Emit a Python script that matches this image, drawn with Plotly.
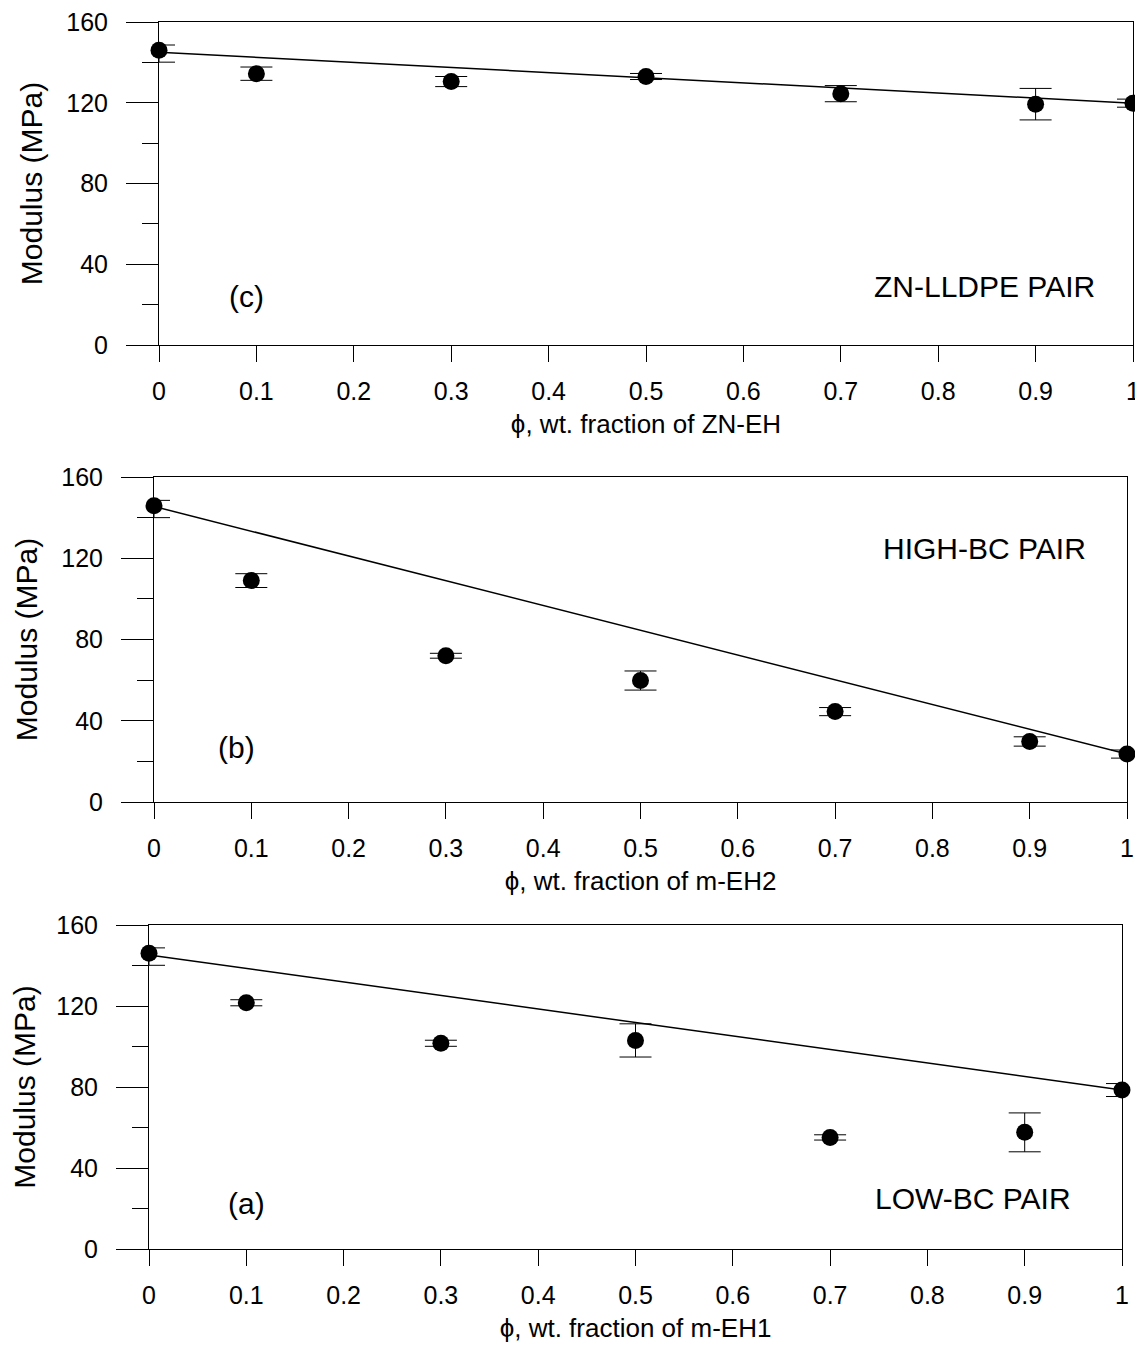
import plotly.graph_objects as go

# ---------------- data ----------------
phi = [0, 0.1, 0.3, 0.5, 0.7, 0.9, 1.0]

# (c) ZN-LLDPE pair
c_mod = [146.0, 134.4, 130.5, 133.0, 124.5, 119.3, 119.8]
c_err_plus = [2.6, 3.3, 2.5, 1.5, 4.0, 7.8, 2.0]
c_err_minus = [5.9, 3.3, 2.5, 1.5, 4.0, 7.8, 2.0]
c_line_x = [0, 1]
c_line_y = [145.0, 119.8]

# (b) HIGH-BC pair
b_mod = [145.8, 109.0, 72.0, 59.8, 44.5, 29.8, 23.6]
b_err_plus = [2.7, 3.4, 1.2, 4.7, 2.0, 2.3, 2.0]
b_err_minus = [5.8, 3.4, 1.2, 4.7, 2.0, 2.3, 2.0]
b_line_x = [0, 1]
b_line_y = [145.5, 23.6]

# (a) LOW-BC pair
a_mod = [146.0, 121.6, 101.6, 103.0, 55.1, 57.6, 78.5]
a_err_plus = [2.7, 1.5, 1.5, 8.2, 1.3, 9.6, 3.2]
a_err_minus = [5.9, 1.5, 1.5, 8.2, 1.3, 9.6, 3.2]
a_line_x = [0, 1]
a_line_y = [145.2, 78.5]

x_tickvals = [0, 0.1, 0.2, 0.3, 0.4, 0.5, 0.6, 0.7, 0.8, 0.9, 1.0]
x_ticktext = ["0", "0.1", "0.2", "0.3", "0.4", "0.5", "0.6", "0.7", "0.8", "0.9", "1"]
y_tickvals = [0, 40, 80, 120, 160]

x_titles = ["\u03d5, wt. fraction of ZN-EH", "\u03d5, wt. fraction of m-EH2", "\u03d5, wt. fraction of m-EH1"]
panel_labels = ["(c)", "(b)", "(a)"]
pair_labels = ["ZN-LLDPE PAIR", "HIGH-BC PAIR", "LOW-BC PAIR"]
panel_label_pos = [(0.09, 24.0), (0.085, 26.6), (0.10, 22.7)]
pair_label_pos = [(0.848, 29.0), (0.854, 125.0), (0.847, 25.0)]

# ---------------- layout geometry (page pixels) ----------------
PAGE_OFF = 8          # default body margin of the html page
W, H = 1143 - PAGE_OFF, 1348 - PAGE_OFF
panels_px = [  # x0, x1, ytop, ybottom  (page pixels)
    (159, 1133, 22, 345),
    (154, 1127, 477, 802),
    (149, 1122, 925, 1249),
]

FONT = "Arial, Liberation Sans, sans-serif"
fig = go.Figure()

datasets = [
    (c_mod, c_err_plus, c_err_minus, c_line_x, c_line_y),
    (b_mod, b_err_plus, b_err_minus, b_line_x, b_line_y),
    (a_mod, a_err_plus, a_err_minus, a_line_x, a_line_y),
]

annotations = []
for i, (mod, ep, em, lx, ly) in enumerate(datasets):
    n = "" if i == 0 else str(i + 1)
    xa, ya = "x" + n, "y" + n
    fig.add_trace(go.Scatter(
        x=lx, y=ly, mode="lines", line=dict(color="black", width=1.5),
        xaxis=xa, yaxis=ya, showlegend=False, hoverinfo="skip"))
    fig.add_trace(go.Scatter(
        x=phi, y=mod, mode="markers",
        marker=dict(color="black", size=17, symbol="circle"),
        error_y=dict(type="data", symmetric=False, array=ep, arrayminus=em,
                     color="black", thickness=1, width=16),
        cliponaxis=False, xaxis=xa, yaxis=ya, showlegend=False))

    x0, x1, yt, yb = panels_px[i]
    xd = [(x0 - PAGE_OFF) / W, (x1 - PAGE_OFF) / W]
    yd = [1 - (yb - PAGE_OFF) / H, 1 - (yt - PAGE_OFF) / H]
    axis_common = dict(showline=True, linecolor="black", linewidth=1, mirror=True,
                       showgrid=False, zeroline=False, ticks="outside",
                       tickcolor="black", tickwidth=1, automargin=False,
                       ticklabeloverflow="allow",
                       tickfont=dict(family=FONT, size=25, color="black"))
    fig.update_layout(**{
        ("xaxis" + n): dict(domain=xd, anchor=ya, range=[0, 1],
                            tickvals=x_tickvals, ticktext=x_ticktext, ticklen=16,
                            ticklabelstandoff=8,
                            title=dict(text=x_titles[i], standoff=10,
                                       font=dict(family=FONT, size=26, color="black")),
                            **axis_common),
        ("yaxis" + n): dict(domain=yd, anchor=xa, range=[0, 160],
                            tickvals=y_tickvals, ticklen=32,
                            ticklabelstandoff=13,
                            minor=dict(dtick=20, tick0=0, ticklen=16, ticks="outside",
                                       tickcolor="black", tickwidth=1),
                            title=dict(text="Modulus (MPa)", standoff=14,
                                       font=dict(family=FONT, size=30, color="black")),
                            **axis_common),
    })
    px_, py_ = panel_label_pos[i]
    annotations.append(dict(x=px_, y=py_, xref=xa, yref=ya, text=panel_labels[i],
                            showarrow=False, font=dict(family=FONT, size=30, color="black")))
    qx, qy = pair_label_pos[i]
    annotations.append(dict(x=qx, y=qy, xref=xa, yref=ya, text=pair_labels[i],
                            showarrow=False, font=dict(family=FONT, size=30, color="black")))

fig.update_layout(
    width=W, height=H,
    margin=dict(l=0, r=0, t=0, b=0),
    paper_bgcolor="white", plot_bgcolor="white",
    annotations=annotations,
    font=dict(family=FONT, color="black"),
)

fig.write_html("out.html")
